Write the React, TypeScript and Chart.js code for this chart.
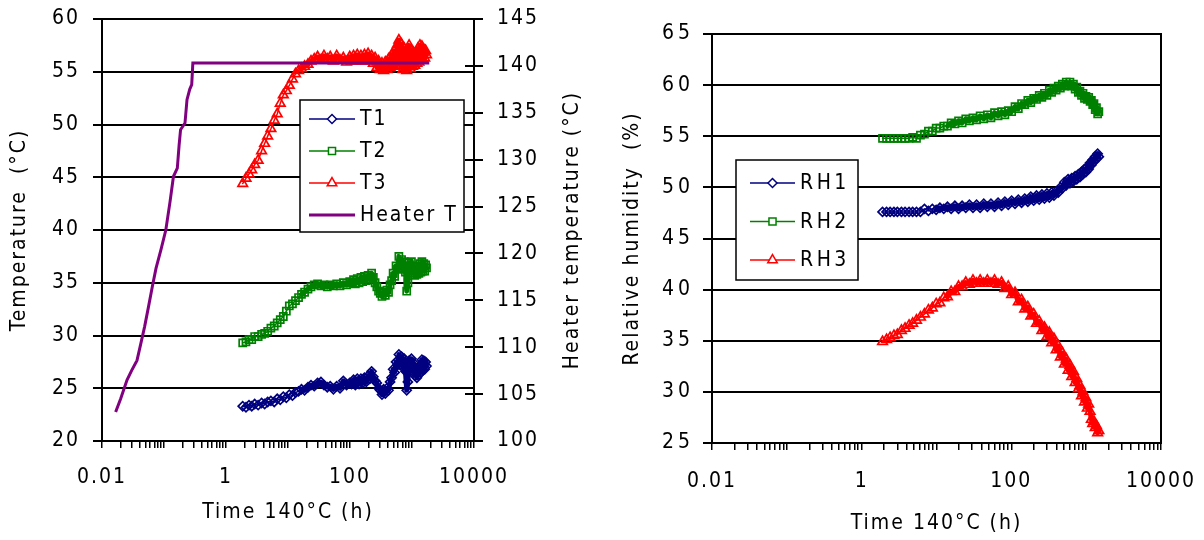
import React, { useEffect, useRef } from 'react';
import { Chart, registerables } from 'chart.js';
import { drawPoint } from 'chart.js/helpers';

Chart.register(...registerables);

const FONT_FAMILY = "'DejaVu Sans Condensed', 'DejaVu Sans', sans-serif";
const FONT_SIZE = 21;

// ---------- Left chart: temperatures ----------
const heaterTime = [0.0166, 0.02, 0.0253, 0.03, 0.0367, 0.042, 0.0487, 0.0562, 0.065, 0.0743, 0.09, 0.107, 0.125, 0.142, 0.164, 0.175, 0.185, 0.218, 0.235, 0.26, 0.28, 0.292, 1900];
const heaterTemp = [103.1, 104.5, 106.5, 107.5, 108.6, 110.3, 112.2, 114.3, 116.5, 118.4, 120.5, 122.5, 125.5, 128.2, 129.1, 131.5, 133.2, 133.9, 136.4, 137.5, 138.0, 140.3, 140.3];

const tTime = [
  1.86, 2.1, 2.35, 2.6, 2.9, 3.3, 3.75, 4.2, 4.7, 5.3, 6.0, 6.7, 7.5, 8.4, 9.4, 10.5, 11.8, 13.2, 14.8, 16.5,
  18.5, 21, 23.5, 26.5, 30, 34, 38, 43, 48, 54, 61, 69, 78, 88, 99,
  106, 114, 122, 131, 140, 150, 160, 171, 183, 196, 209, 223, 238, 254, 271, 289, 308, 328, 349, 371,
  394, 418, 443, 469, 496, 524, 553, 583, 614, 646, 679, 713, 748, 784, 821, 859, 898, 938, 979, 1021,
  1064, 1108, 1153, 1199, 1246, 1294, 1343, 1393, 1444, 1496, 1549, 1603, 1658, 1714,
];
const t1Values = [
  23.3, 23.2, 23.4, 23.3, 23.5, 23.4, 23.6, 23.5, 23.7, 23.8, 23.7, 24.0, 23.9, 24.2, 24.1, 24.4, 24.3, 24.6, 24.7, 24.9,
  24.8, 25.1, 25.3, 25.2, 25.5, 25.6, 25.3, 25.1, 25.2, 24.9, 25.2, 25.0, 25.7, 25.3, 25.5,
  25.4, 25.8, 25.3, 25.9, 25.4, 25.9, 25.5, 26.0, 25.6, 26.2, 25.9, 26.6, 26.1, 25.7, 25.5, 25.0, 24.8, 24.4, 24.9, 24.5,
  25.0, 24.8, 25.6, 26.0, 26.8, 26.5, 27.5, 27.2, 28.2, 27.2, 28.0, 27.0, 27.8, 26.6, 24.8, 25.6, 27.6, 27.0, 27.8, 26.6,
  27.4, 26.2, 26.9, 26.0, 26.8, 26.3, 27.2, 26.5, 27.7, 26.7, 27.6, 26.8, 27.5, 27.1,
];
const t2Values = [
  29.3, 29.4, 29.6, 29.6, 29.9, 29.9, 30.1, 30.2, 30.4, 30.7, 30.9, 31.2, 31.5, 31.8, 32.3, 32.8, 33.0, 33.3, 33.6, 33.9,
  34.1, 34.4, 34.6, 34.8, 34.9, 34.7, 34.8, 34.6, 34.8, 34.7, 34.9, 34.7, 35.0, 34.8, 35.1,
  35.0, 35.3, 34.9, 35.4, 35.0, 35.5, 35.1, 35.6, 35.2, 35.7, 35.4, 35.9, 35.5, 35.0, 34.6, 34.2, 34.0, 33.7, 34.1, 33.8,
  34.3, 34.1, 34.8, 35.2, 35.9, 35.6, 36.6, 36.3, 37.5, 36.4, 37.2, 36.3, 37.0, 36.0, 34.2, 35.0, 36.9, 36.3, 37.0, 35.9,
  36.6, 35.7, 36.3, 35.8, 36.5, 35.9, 36.8, 36.0, 37.0, 36.1, 36.8, 36.1, 36.7, 36.4,
];
const t3Values = [
  44.4, 44.9, 45.3, 45.7, 46.2, 46.6, 47.5, 48.2, 48.9, 49.6, 50.4, 51.0, 52.0, 52.8, 53.2, 53.7, 54.3, 54.8, 55.1, 55.3,
  55.5, 55.7, 56.0, 56.2, 56.4, 56.1, 56.5, 56.2, 56.4, 56.0, 56.5, 56.1, 56.3, 55.9, 56.4,
  56.0, 56.5, 56.0, 56.6, 56.1, 56.5, 56.0, 56.6, 56.0, 56.7, 56.1, 56.5, 55.8, 56.3, 55.4, 56.0, 55.2, 55.8, 55.1, 55.9,
  55.2, 56.2, 55.4, 56.6, 55.5, 57.0, 55.6, 57.6, 58.0, 55.6, 57.6, 55.2, 57.2, 55.4, 55.1, 56.5, 57.5, 55.3, 57.0, 55.5,
  56.8, 55.6, 56.7, 55.8, 57.2, 55.9, 57.5, 56.1, 57.4, 56.2, 57.1, 56.3, 57.0, 56.6,
];

// ---------- Right chart: relative humidity ----------
const rhTime = [
  1.9, 2.15, 2.4, 2.7, 3.0, 3.4, 3.8, 4.3, 4.8, 5.4, 6.1, 6.9, 7.8, 8.8, 9.9, 11.1, 12.5, 14, 15.7, 17.6,
  19.7, 22, 24.6, 27.5, 30.7, 34.3, 38.3, 42.8, 47.8, 53.4, 59.6, 66.5, 74, 82, 91, 101, 112, 124, 137, 151,
  166, 182, 199, 217, 236, 256, 277, 299, 322, 346, 371, 397, 424, 452, 481, 511, 542, 574, 607, 641,
  676, 712, 749, 787, 826, 866, 907, 949, 992, 1036, 1081, 1127, 1174, 1222, 1271, 1321, 1372, 1424, 1477,
];
const rh1Values = [
  47.6, 47.6, 47.6, 47.6, 47.6, 47.6, 47.6, 47.6, 47.6, 47.6, 47.6, 47.9, 47.7, 47.9, 47.8, 48.0, 47.9, 48.1, 47.9, 48.2,
  47.9, 48.2, 48.0, 48.3, 48.0, 48.3, 48.0, 48.4, 48.1, 48.4, 48.1, 48.5, 48.2, 48.6, 48.3, 48.7, 48.4, 48.8, 48.5, 48.9,
  48.6, 49.1, 48.7, 49.2, 48.8, 49.3, 48.9, 49.4, 49.0, 49.5, 49.2, 49.6, 49.5, 50.0, 49.9, 50.5, 50.2, 50.8, 50.4, 50.9,
  50.6, 51.1, 50.8, 51.3, 51.0, 51.5, 51.3, 51.8, 51.5, 52.0, 51.8, 52.4, 52.2, 52.7, 52.5, 53.0, 52.8, 53.3, 53.0,
];
const rh2Values = [
  54.8, 54.8, 54.8, 54.8, 54.8, 54.8, 54.8, 54.8, 54.9, 54.8, 55.1, 55.2, 55.5, 55.5, 55.8, 55.8, 56.0, 56.0, 56.3, 56.2,
  56.5, 56.3, 56.7, 56.5, 56.8, 56.6, 57.0, 56.7, 57.1, 56.8, 57.3, 57.0, 57.4, 57.1, 57.5, 57.4, 57.9, 57.7, 58.2, 58.1,
  58.5, 58.3, 58.7, 58.6, 59.0, 58.8, 59.2, 59.0, 59.5, 59.3, 59.7, 59.5, 59.9, 59.7, 60.1, 59.9, 60.3, 60.0, 60.3, 59.9,
  60.1, 59.6, 59.8, 59.3, 59.4, 59.0, 59.2, 58.7, 58.9, 58.6, 58.8, 58.4, 58.5, 58.1, 58.2, 57.6, 57.8, 57.2, 57.4,
];
const rh3Values = [
  34.9, 35.1, 35.3, 35.5, 35.6, 36.0, 36.2, 36.5, 36.7, 37.0, 37.3, 37.6, 38.0, 38.2, 38.6, 38.7, 39.2, 39.3, 39.8, 39.8,
  40.3, 40.3, 40.7, 40.5, 40.9, 40.6, 40.9, 40.6, 40.9, 40.6, 40.9, 40.5, 40.7, 40.1, 40.3, 39.5, 39.7, 38.8, 39.0, 38.1,
  38.3, 37.4, 37.6, 36.7, 36.9, 36.0, 36.3, 35.4, 35.8, 34.8, 35.2, 34.1, 34.5, 33.4, 33.8, 32.7, 33.2, 32.1, 32.6, 31.5,
  32.0, 30.9, 31.3, 30.3, 30.6, 29.6, 30.0, 29.0, 29.4, 28.4, 28.8, 28.1, 27.3, 26.9, 27.1, 26.5, 26.7, 26.0, 26.2,
];

// ---------- Axis ticks ----------
const xTickValues = [0.01, 1, 100, 10000];
const xTickLabels = ['0.01', '1', '100', '10000'];

const tickFont = { family: FONT_FAMILY, size: FONT_SIZE };

const pairs = (xs: number[], ys: number[]) => ys.map((y, i) => ({ x: xs[i], y }));

function buildLogTicks(scale: any) {
  const ticks: any[] = [];
  const lo = Math.round(Math.log10(scale.min));
  const hi = Math.round(Math.log10(scale.max));
  for (let d = lo; d <= hi; d++) {
    for (let m = 1; m <= 9; m++) {
      if (d === hi && m > 1) break;
      ticks.push({ value: m * Math.pow(10, d), major: m === 1 });
    }
  }
  scale.ticks = ticks;
}

function xLabel(value: any) {
  const v = Number(value);
  const i = xTickValues.findIndex((t) => Math.abs(t - v) < t * 1e-6);
  return i >= 0 ? xTickLabels[i] : '';
}

function xScale(height: number, labelPad: number, titlePadBottom: number) {
  return {
    type: 'logarithmic',
    position: 'bottom',
    min: 0.01,
    max: 10000,
    afterBuildTicks: buildLogTicks,
    afterFit: (s: any) => { s.height = height; s.paddingLeft = 0; s.paddingRight = 0; },
    ticks: { autoSkip: false, maxRotation: 0, minRotation: 0, color: '#000', font: tickFont, padding: labelPad, callback: xLabel },
    grid: { drawOnChartArea: false, drawTicks: true, tickLength: 7, color: '#000', lineWidth: 1.5 },
    border: { display: true, color: '#000', width: 2 },
    title: { display: true, text: 'Time 140°C (h)', color: '#000', font: tickFont, padding: { top: 0, bottom: titlePadBottom } },
  };
}

function yScale(opts: { min: number; max: number; width: number; title: string; titlePad: number; labelPad: number }) {
  return {
    type: 'linear',
    position: 'left',
    min: opts.min,
    max: opts.max,
    afterFit: (s: any) => { s.width = opts.width; s.paddingTop = 0; s.paddingBottom = 0; },
    ticks: { stepSize: 5, color: '#000', font: tickFont, padding: opts.labelPad },
    grid: { color: '#000', lineWidth: 2, tickLength: 9 },
    border: { display: true, color: '#000', width: 2 },
    title: { display: true, text: opts.title, color: '#000', font: tickFont, padding: { top: opts.titlePad, bottom: 0 } },
  };
}

// Marker series: thin line where markers are sparse, heavier stroke where the
// markers crowd together into a solid band (as in the reference).
const seriesStyle = (color: string, pointStyle: string, radius: number, denseFrom: number) => ({
  borderColor: color,
  backgroundColor: 'rgba(0,0,0,0)',
  borderWidth: 1.5,
  borderJoinStyle: 'round',
  borderCapStyle: 'round',
  segment: { borderWidth: (c: any) => (c.p0.parsed.x >= denseFrom ? 5 : 1.5) },
  pointStyle,
  pointRadius: radius,
  pointBorderWidth: 1.7,
  pointBorderColor: color,
  pointBackgroundColor: 'rgba(0,0,0,0)',
  tension: 0,
});

// ---------- Plugins ----------
const spacingPlugin = {
  id: 'letterSpacing',
  afterInit(c: any, _a: any, o: any) { c.ctx.letterSpacing = o.base; },
  beforeUpdate(c: any, _a: any, o: any) { c.ctx.letterSpacing = o.base; },
  afterUpdate(c: any, _a: any, o: any) {
    Object.keys(o.labels || {}).forEach((id) => {
      const s = c.scales[id];
      if (!s || s.__spaced) return;
      const orig = s.drawLabels;
      s.drawLabels = function (area: any) {
        const ctx = this.ctx;
        const prev = ctx.letterSpacing;
        ctx.letterSpacing = o.labels[id];
        orig.call(this, area);
        ctx.letterSpacing = prev;
      };
      s.__spaced = true;
    });
  },
  beforeDraw(c: any, _a: any, o: any) { c.ctx.letterSpacing = o.base; },
};

const legendPlugin = {
  id: 'boxLegend',
  afterDraw(chart: any, _args: any, o: any) {
    const ctx = chart.ctx;
    ctx.save();
    ctx.fillStyle = '#fff';
    ctx.fillRect(o.x, o.y, o.w, o.h);
    ctx.strokeStyle = '#000';
    ctx.lineWidth = 1.5;
    ctx.strokeRect(o.x, o.y, o.w, o.h);
    ctx.font = `${FONT_SIZE}px ${FONT_FAMILY}`;
    ctx.letterSpacing = o.spacing;
    ctx.textBaseline = 'middle';
    ctx.textAlign = 'left';
    chart.data.datasets.forEach((ds: any, i: number) => {
      const cy = o.y + o.first + i * o.step;
      const hasMarker = ds.pointRadius > 0;
      ctx.strokeStyle = ds.borderColor;
      ctx.lineWidth = hasMarker ? 1.5 : ds.borderWidth;
      ctx.beginPath();
      ctx.moveTo(o.x + o.l0, cy);
      ctx.lineTo(o.x + o.l1, cy);
      ctx.stroke();
      if (hasMarker) {
        ctx.fillStyle = '#fff';
        ctx.lineWidth = 1.5;
        drawPoint(ctx, { pointStyle: ds.pointStyle, rotation: 0, radius: ds.pointRadius, borderWidth: 1.5 } as any, o.x + (o.l0 + o.l1) / 2, cy);
      }
      ctx.fillStyle = '#000';
      ctx.fillText(ds.label, o.x + o.tx, cy + 1);
    });
    ctx.restore();
  },
};

const framePlugin = {
  id: 'frame',
  afterDraw(chart: any, _args: any, o: any) {
    const ctx = chart.ctx;
    const a = chart.chartArea;
    ctx.save();
    ctx.strokeStyle = '#000';
    ctx.lineWidth = 2;
    if (o.rightBorder) {
      ctx.beginPath();
      ctx.moveTo(a.right, a.top - 1);
      ctx.lineTo(a.right, a.bottom + 1);
      ctx.stroke();
    }
    if (o.innerTicksAxis) {
      const s = chart.scales[o.innerTicksAxis];
      ctx.beginPath();
      s.ticks.forEach((t: any) => {
        const y = Math.round(s.getPixelForValue(t.value));
        ctx.moveTo(a.right - 9, y);
        ctx.lineTo(a.right, y);
      });
      ctx.stroke();
    }
    if (o.rightTitle) {
      ctx.font = `${FONT_SIZE}px ${FONT_FAMILY}`;
      ctx.fillStyle = '#000';
      ctx.textAlign = 'center';
      ctx.textBaseline = 'middle';
      ctx.translate(a.right + o.rightTitleDx, (a.top + a.bottom) / 2);
      ctx.rotate(-Math.PI / 2);
      ctx.fillText(o.rightTitle, 0, 0);
    }
    ctx.restore();
  },
};

// ---------- Configs ----------
function leftConfig(): any {
  return {
    type: 'line',
    data: {
      datasets: [
        { label: 'T1', data: pairs(tTime, t1Values), yAxisID: 'y', order: 3, ...seriesStyle('#000080', 'rectRot', 4.5, 16) },
        { label: 'T2', data: pairs(tTime, t2Values), yAxisID: 'y', order: 2, ...seriesStyle('#008000', 'rect', 5, 15) },
        { label: 'T3', data: pairs(tTime, t3Values), yAxisID: 'y', order: 1, ...seriesStyle('#FF0000', 'triangle', 5.5, 15) },
        { label: 'Heater T', data: pairs(heaterTime, heaterTemp), yAxisID: 'y1', order: 0, borderColor: '#800080', backgroundColor: '#800080', borderWidth: 3, pointRadius: 0, tension: 0 },
      ],
    },
    options: {
      animation: false,
      responsive: false,
      maintainAspectRatio: false,
      layout: { padding: { top: 19, left: 0, right: 0, bottom: 0 } },
      plugins: {
        legend: { display: false },
        tooltip: { enabled: false },
        letterSpacing: { base: '2px' },
        boxLegend: { x: 300, y: 100, w: 164, h: 132, first: 19, step: 32, l0: 9, l1: 55, tx: 60, spacing: '2px' },
        frame: { innerTicksAxis: 'y1', rightTitle: 'Heater temperature (°C)', rightTitleDx: 99 },
      },
      scales: {
        x: xScale(99, 17, 15),
        y: yScale({ min: 20, max: 60, width: 102, title: 'Temperature  (°C)', titlePad: 7, labelPad: 13 }),
        y1: {
          type: 'linear',
          position: 'right',
          min: 100,
          max: 145,
          afterFit: (s: any) => { s.width = 126; s.paddingTop = 0; s.paddingBottom = 0; },
          ticks: { stepSize: 5, color: '#000', font: tickFont, padding: 14 },
          grid: { drawOnChartArea: false, color: '#000', lineWidth: 2, tickLength: 9 },
          border: { display: true, color: '#000', width: 2 },
          title: { display: false },
        },
      },
    },
    plugins: [spacingPlugin, legendPlugin, framePlugin],
  };
}

function rightConfig(): any {
  return {
    type: 'line',
    data: {
      datasets: [
        { label: 'RH1', data: pairs(rhTime, rh1Values), order: 3, ...seriesStyle('#000080', 'rectRot', 4.5, 9) },
        { label: 'RH2', data: pairs(rhTime, rh2Values), order: 2, ...seriesStyle('#008000', 'rect', 5, 14) },
        { label: 'RH3', data: pairs(rhTime, rh3Values), order: 1, ...seriesStyle('#FF0000', 'triangle', 5.5, 14) },
      ],
    },
    options: {
      animation: false,
      responsive: false,
      maintainAspectRatio: false,
      layout: { padding: { top: 34, left: 0, right: 43, bottom: 0 } },
      plugins: {
        legend: { display: false },
        tooltip: { enabled: false },
        letterSpacing: { base: '2px', labels: { y: '4px' } },
        boxLegend: { x: 136, y: 160, w: 122, h: 120, first: 23, step: 38.5, l0: 14, l1: 59, tx: 64, spacing: '3.5px' },
        frame: { rightBorder: true },
      },
      scales: {
        x: xScale(97, 19, 4),
        y: yScale({ min: 25, max: 65, width: 112, title: 'Relative humidity  (%)', titlePad: 20, labelPad: 9 }),
      },
    },
    plugins: [spacingPlugin, legendPlugin, framePlugin],
  };
}

function ChartCanvas({ makeConfig, left, width }: { makeConfig: () => any; left: number; width: number }) {
  const ref = useRef<HTMLCanvasElement>(null);
  useEffect(() => {
    const canvas = ref.current!;
    const chart = new Chart(canvas, makeConfig());
    return () => chart.destroy();
  }, [makeConfig]);
  return (
    <canvas
      ref={ref}
      width={width}
      height={540}
      style={{ position: 'absolute', left, top: 0, width, height: 540, display: 'block' }}
    />
  );
}

export default function App() {
  return (
    <div style={{ position: 'absolute', left: 0, top: 0, width: 1204, height: 540, background: '#fff', overflow: 'hidden' }}>
      <ChartCanvas makeConfig={leftConfig} left={0} width={600} />
      <ChartCanvas makeConfig={rightConfig} left={600} width={604} />
    </div>
  );
}
